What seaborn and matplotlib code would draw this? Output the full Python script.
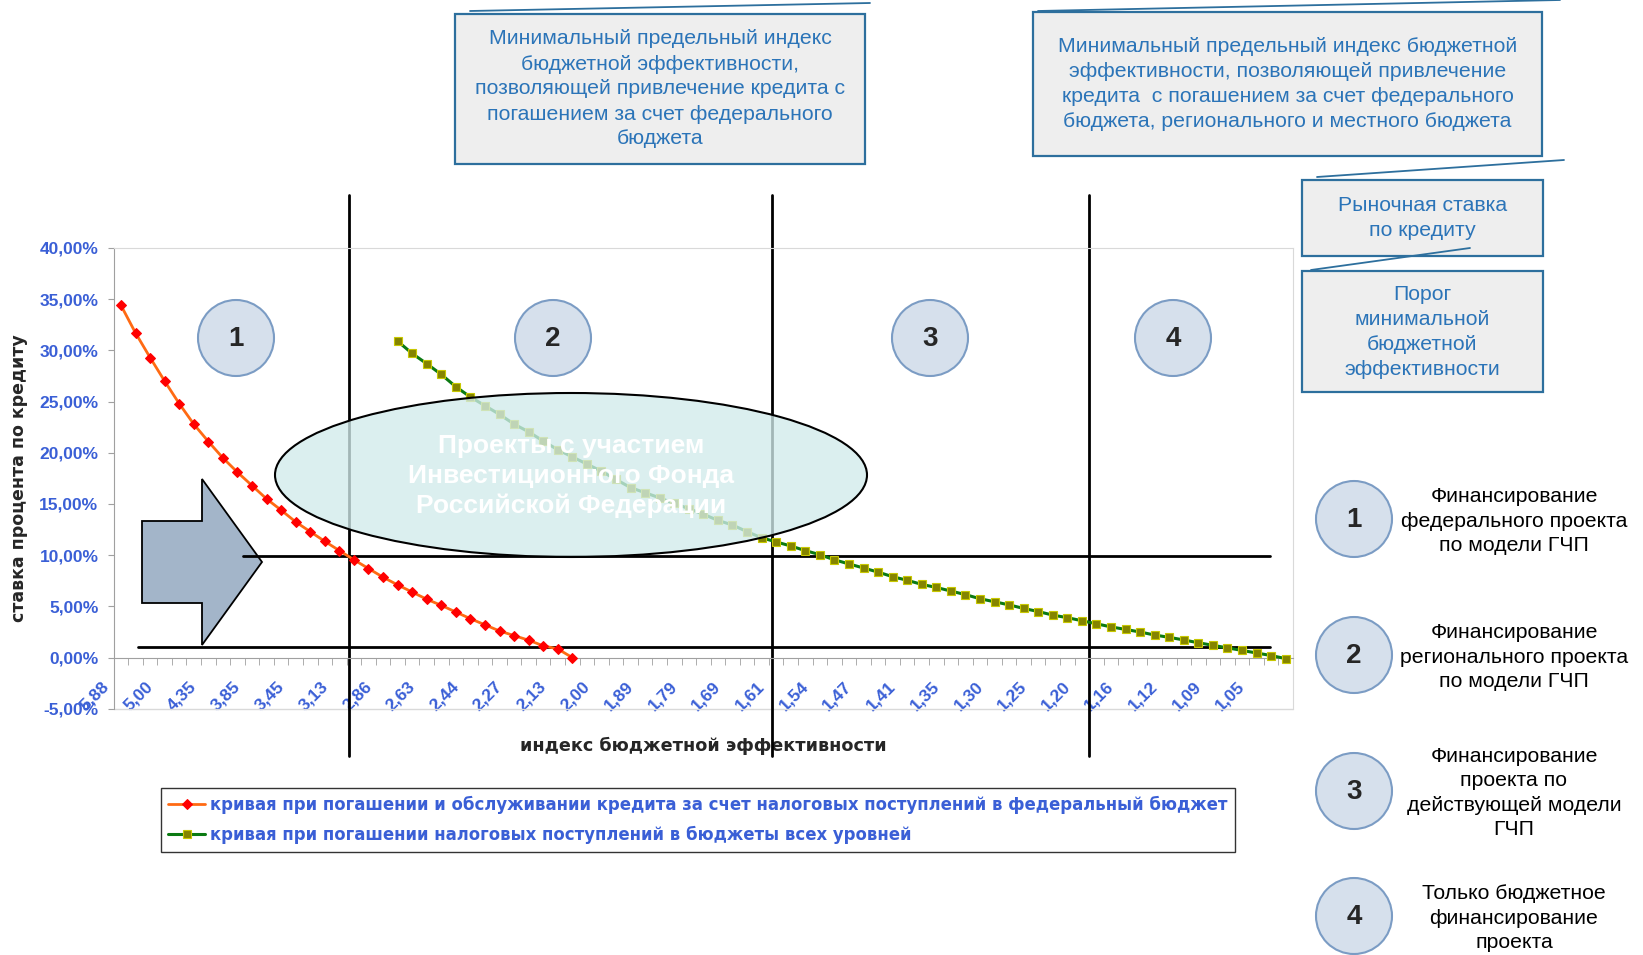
import matplotlib
matplotlib.use('Agg')
import matplotlib.pyplot as plt
import matplotlib.patches as mpatches
import matplotlib.transforms as mtransforms
from matplotlib.ticker import FixedLocator
import numpy as np
import pandas as pd
import seaborn as sns

# 1 - данные, снятые с графика
# категории оси X: индекс бюджетной эффективности (подписана каждая 3-я)
n_categories = 81
tick_positions = list(range(0, 81, 3))
tick_labels = ['5,88', '5,00', '4,35', '3,85', '3,45', '3,13', '2,86', '2,63', '2,44',
               '2,27', '2,13', '2,00', '1,89', '1,79', '1,69', '1,61', '1,54', '1,47',
               '1,41', '1,35', '1,30', '1,25', '1,20', '1,16', '1,12', '1,09', '1,05']

# кривая при погашении за счет федерального бюджета, %
red_x = list(range(0, 32))
red_y = [34.4, 31.7, 29.3, 27.0, 24.8, 22.8, 21.1, 19.5, 18.1, 16.8, 15.5, 14.4,
         13.25, 12.3, 11.35, 10.45, 9.55, 8.7, 7.85, 7.1, 6.4, 5.7, 5.1, 4.45,
         3.8, 3.2, 2.6, 2.15, 1.7, 1.15, 0.85, 0.0]

# кривая при погашении налоговых поступлений в бюджеты всех уровней, %
green_x = list(range(19, 81))
green_y = [30.9, 29.7, 28.7, 27.65, 26.45, 25.45, 24.6, 23.75, 22.8, 22.05, 21.15, 20.3,
           19.6, 18.9, 18.2, 17.4, 16.6, 16.1, 15.6, 15.05, 14.55, 14.0, 13.4, 12.95,
           12.3, 11.7, 11.3, 10.9, 10.45, 10.05, 9.55, 9.15, 8.75, 8.35, 7.9, 7.55,
           7.15, 6.85, 6.5, 6.15, 5.75, 5.45, 5.15, 4.8, 4.5, 4.15, 3.9, 3.6,
           3.3, 3.0, 2.75, 2.5, 2.2, 1.98, 1.72, 1.45, 1.2, 0.95, 0.7, 0.45,
           0.2, -0.1]

market_rate = 9.9      # рыночная ставка по кредиту
threshold_rate = 1.0   # порог минимальной бюджетной эффективности
zone_borders = [15.66, 44.7, 66.5]

legend_red = 'кривая при погашении и обслуживании кредита за счет налоговых поступлений в федеральный бюджет'
legend_green = 'кривая при погашении налоговых поступлений в бюджеты всех уровней'

box_texts = [
    'Минимальный предельный индекс\nбюджетной эффективности,\nпозволяющей привлечение кредита с\nпогашением за счет федерального\nбюджета',
    'Минимальный предельный индекс бюджетной\nэффективности, позволяющей привлечение\nкредита  с погашением за счет федерального\nбюджета, регионального и местного бюджета',
    'Рыночная ставка\nпо кредиту',
    'Порог\nминимальной\nбюджетной\nэффективности',
]
zone_texts = [
    'Финансирование\nфедерального проекта\nпо модели ГЧП',
    'Финансирование\nрегионального проекта\nпо модели ГЧП',
    'Финансирование\nпроекта по\nдействующей модели\nГЧП',
    'Только бюджетное\nфинансирование\nпроекта',
]

# 2 - оформление
sns.set_style('white')
plt.rcParams['font.family'] = ['Liberation Sans', 'DejaVu Sans']

W, H = 1643, 955
blue = '#3a5fd6'
fig = plt.figure(figsize=(W / 100, H / 100), dpi=100)
ax = fig.add_axes([113.7 / W, 1 - 708.8 / H, (1293 - 113.7) / W, (708.8 - 248) / H])
# пиксели картинки (отсчет сверху) -> координаты фигуры
px = mtransforms.Affine2D().scale(1 / W, -1 / H).translate(0, 1) + fig.transFigure

df_red = pd.DataFrame({'x': red_x, 'y': red_y})
df_green = pd.DataFrame({'x': green_x, 'y': green_y})
sns.lineplot(data=df_red, x='x', y='y', ax=ax, color='#ff6a13', linewidth=2,
             marker='D', markersize=5.5, markerfacecolor='#ff0000',
             markeredgecolor='#ff0000', label=legend_red, zorder=3)
sns.lineplot(data=df_green, x='x', y='y', ax=ax, color='#0b7a12', linewidth=2.2,
             marker='s', markersize=5.5, markerfacecolor='#848400',
             markeredgecolor='#c8c800', markeredgewidth=0.8, label=legend_green, zorder=3)

ax.set_xlim(-0.5, n_categories - 0.5)
ax.set_ylim(-5, 40)
ax.set_xticks(tick_positions, tick_labels)
ax.xaxis.set_minor_locator(FixedLocator(np.arange(-0.5, n_categories, 1)))
yt = list(range(-5, 41, 5))
ax.set_yticks(yt, [f'{v:.2f}%'.replace('.', ',') for v in yt])

ax.spines['bottom'].set_position(('data', 0))
for side in ['bottom', 'left']:
    ax.spines[side].set_color('#a0a0a0')
for side in ['top', 'right']:
    ax.spines[side].set_color('#d9d9d9')
ax.axhline(-5, color='#d9d9d9', lw=1, clip_on=False)

ax.tick_params(axis='x', which='major', bottom=True, length=0, pad=15,
               labelsize=12.5, labelcolor=blue)
ax.tick_params(axis='x', which='minor', bottom=True, length=5, color='#a0a0a0',
               direction='out')
ax.tick_params(axis='y', left=True, length=4, color='#a0a0a0', direction='out',
               pad=7, labelsize=12.5, labelcolor=blue)
shift_left = mtransforms.ScaledTranslation(-14 / 72, 0, fig.dpi_scale_trans)
for lbl in ax.get_xticklabels():
    lbl.set_rotation(45)
    lbl.set_ha('right')
    lbl.set_rotation_mode('anchor')
    lbl.set_fontweight('bold')
    lbl.set_transform(lbl.get_transform() + shift_left)
for lbl in ax.get_yticklabels():
    lbl.set_fontweight('bold')

ax.set_xlabel('индекс бюджетной эффективности', fontsize=12.7, fontweight='bold',
              family='DejaVu Sans')
ax.set_ylabel('ставка процента по кредиту', fontsize=12.5, fontweight='bold',
              family='DejaVu Sans')
ax.xaxis.set_label_coords(0.5, -0.06)
ax.yaxis.set_label_coords(-0.073, 0.5)

# вертикальные и горизонтальные границы зон
for xb in zone_borders:
    ax.plot([xb, xb], [45.2, -9.6], color='black', lw=2, clip_on=False, zorder=2.5)
ax.plot([8.4, 78.9], [market_rate, market_rate], color='black', lw=2, clip_on=False, zorder=2.5)
ax.plot([1.17, 78.9], [threshold_rate, threshold_rate], color='black', lw=2, clip_on=False, zorder=2.5)

# стрелка
arrow_pts = [(142, 521), (202, 521), (202, 479), (262, 562), (202, 645), (202, 603), (142, 603)]
ax.add_patch(mpatches.Polygon(arrow_pts, closed=True, transform=px, facecolor='#a3b5c9',
                              edgecolor='black', lw=1.3, zorder=2, clip_on=False))

# эллипс
ax.add_patch(mpatches.Ellipse((571, 475), 592, 164, transform=px,
                              facecolor=(0.82, 0.92, 0.92, 0.78), edgecolor='black',
                              lw=1.5, zorder=4, clip_on=False))
ax.text(571, 476, 'Проекты с участием\nИнвестиционного Фонда\nРоссийской Федерации',
        transform=px, ha='center', va='center', color='white', fontsize=19,
        fontweight='bold', linespacing=1.32, zorder=5)

# номера зон
circle_style = dict(facecolor='#d6e0ec', edgecolor='#7b9cc4', lw=1.5, clip_on=False, zorder=5)
for i, cx in enumerate([236, 553, 930, 1173]):
    ax.add_patch(mpatches.Circle((cx, 338), 38, transform=px, **circle_style))
    ax.text(cx, 339, str(i + 1), transform=px, ha='center', va='center',
            fontsize=20, fontweight='bold', zorder=6)
for i, cy in enumerate([519, 655, 791, 916]):
    ax.add_patch(mpatches.Circle((1354, cy), 38, transform=px, **circle_style))
    ax.text(1354, cy + 1, str(i + 1), transform=px, ha='center', va='center',
            fontsize=20, fontweight='bold', zorder=6)
    fig.text(1514, cy + 2, zone_texts[i], transform=px, ha='center', va='center',
             fontsize=15.3, linespacing=1.35, color='black')

# выноски
box_color = '#2d6f9d'
text_color = '#2b74b8'
boxes = [(455, 14, 410, 150), (1033, 12, 509, 144), (1302, 180, 241, 76), (1302, 271, 241, 121)]
for (bx, by, bw, bh), txt in zip(boxes, box_texts):
    ax.add_patch(mpatches.Rectangle((bx, by), bw, bh, transform=px, facecolor='#eeeeee',
                                    edgecolor=box_color, lw=1.6, clip_on=False, zorder=5))
    fig.text(bx + bw / 2, by + bh / 2, txt, transform=px, ha='center', va='center',
             fontsize=15.3, linespacing=1.4, color=text_color)
for (x0, y0, x1, y1) in [(470, 11, 870, 3), (1038, 11, 1560, 0),
                         (1317, 177, 1564, 160), (1311, 270, 1470, 248)]:
    ax.plot([x0, x1], [y0, y1], transform=px, color=box_color, lw=1.3, clip_on=False, zorder=6)

# легенда
leg = ax.legend(loc='upper left', bbox_to_anchor=(161 / W, 1 - 788 / H),
                bbox_transform=fig.transFigure, borderaxespad=0, frameon=True,
                fancybox=False, edgecolor='black', handlelength=2.2, handletextpad=0.3,
                borderpad=0.45, labelspacing=0.75,
                prop={'family': 'DejaVu Sans', 'weight': 'bold', 'size': 11.9})
leg.get_frame().set_linewidth(1)
for t in leg.get_texts():
    t.set_color(blue)

fig.savefig('out.png', dpi=100)
